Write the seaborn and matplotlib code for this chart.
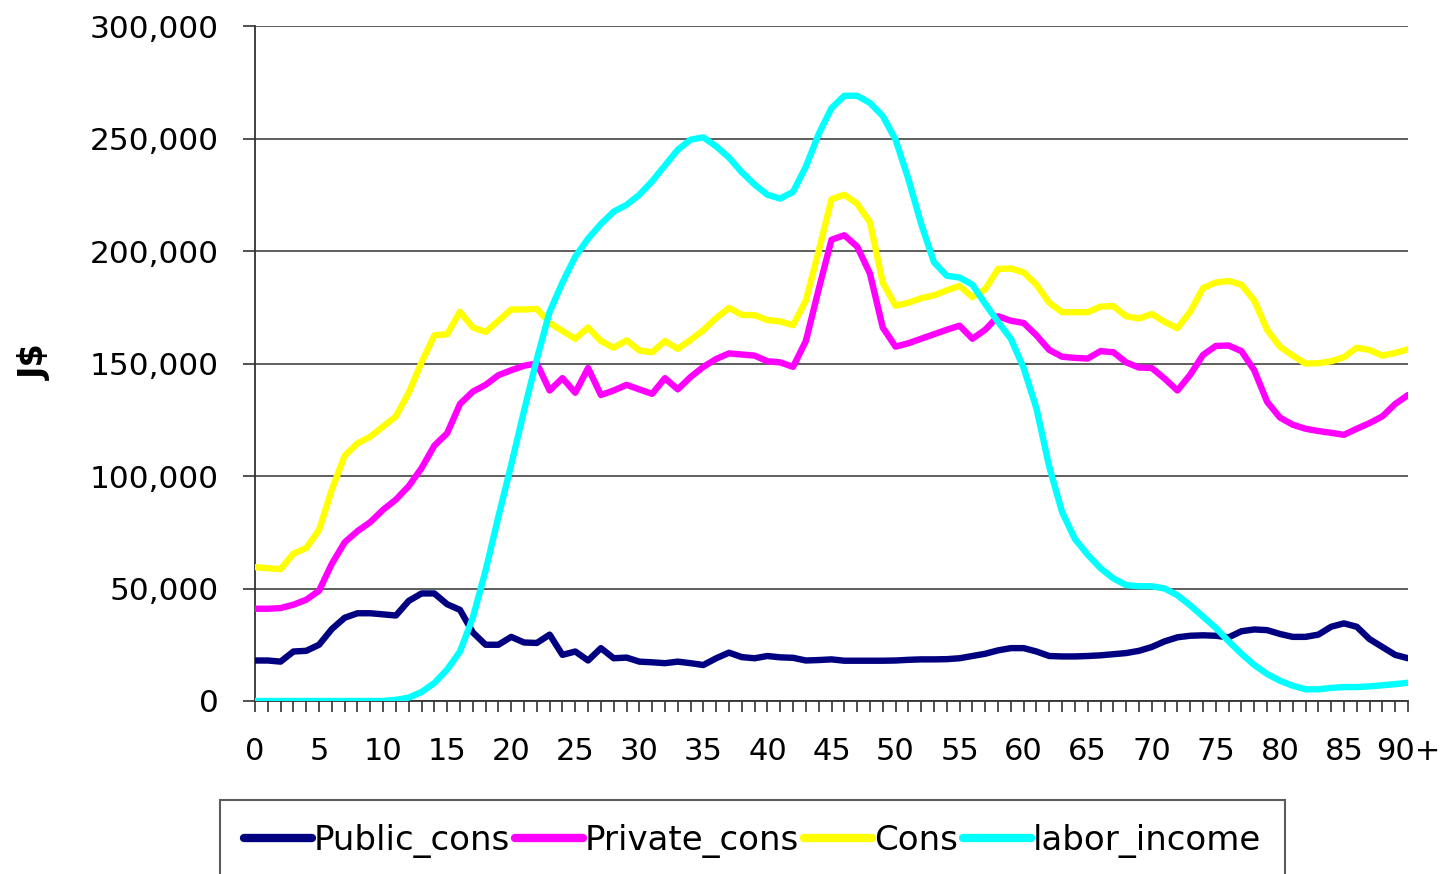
import numpy as np
import pandas as pd
import matplotlib
matplotlib.use("Agg")
import matplotlib.pyplot as plt
import seaborn as sns
from matplotlib.lines import Line2D

ages = list(range(0, 91))
tick_ages = list(range(0, 91, 5))
tick_labels = [str(a) for a in range(0, 90, 5)] + ["90+"]
series_names = ["Public_cons", "Private_cons", "Cons", "labor_income"]
series_colors = ["#000080", "#FF00FF", "#FFFF00", "#00FFFF"]

public_cons = [18000, 18000, 17500, 22000, 22300, 25000, 32000, 37000, 39000, 39000,
               38500, 38000, 44500, 47800, 47800, 43000, 40500, 30500, 25000, 25000,
               28500, 26000, 25800, 29500, 20500, 22000, 18000, 23500, 19000, 19300,
               17500, 17200, 16800, 17500, 16800, 16000, 19000, 21500, 19500, 19000,
               20000, 19400, 19200, 18000, 18200, 18500, 17900, 17900, 17900, 17900,
               18000, 18300, 18500, 18500, 18600, 19000, 20000, 21000, 22500, 23500,
               23500, 22000, 20000, 19800, 19800, 20000, 20300, 20800, 21300, 22300,
               24000, 26500, 28300, 29000, 29200, 29000, 28300, 31000, 31800, 31500,
               29800, 28500, 28500, 29500, 33000, 34500, 33000, 27500, 24000, 20500,
               19000]

private_cons = [41000, 41000, 41300, 42800, 45000, 49000, 61000, 70500, 75500, 79500,
                85000, 89500, 95500, 103500, 113500, 119000, 132000, 137500, 140500, 144800,
                147000, 149000, 150000, 138000, 143500, 137000, 148000, 136000, 138000, 140500,
                138500, 136500, 143500, 138500, 144000, 148500, 152000, 154500, 154000, 153500,
                151000, 150500, 148500, 160000, 183000, 205000, 207000, 202000, 190000, 166000,
                157500, 159000, 161000, 163000, 165000, 166800, 161000, 165000, 171000, 169000,
                168000, 162500, 156000, 153000, 152500, 152200, 155500, 155000, 150500, 148200,
                148000, 143300, 138000, 145000, 153800, 157800, 158000, 155500, 147000, 133000,
                126000, 122800, 121000, 120000, 119200, 118300, 121000, 123500, 126500, 132000,
                136000]

cons = [59500, 59000, 58600, 65500, 68000, 76000, 94000, 109000, 114500, 117500,
        122000, 126500, 137000, 150500, 162500, 163000, 173000, 166000, 164000, 169000,
        174000, 174000, 174300, 168000, 164500, 161000, 166000, 160000, 157000, 160300,
        155800, 155000, 160000, 156500, 160500, 164800, 170200, 174700, 171600, 171500,
        169300, 168700, 167000, 178000, 200000, 223000, 225000, 221000, 212800, 186000,
        175700, 177000, 179000, 180300, 182500, 184500, 179500, 183000, 192000, 192200,
        190500, 185000, 177000, 172800, 172800, 172800, 175300, 175500, 171000, 170000,
        172000, 168500, 165700, 173000, 183500, 186000, 186700, 185000, 178000, 165000,
        157500, 153500, 150000, 150100, 151000, 152800, 157000, 156000, 153500, 154700,
        156300]

labor_income = [0, 0, 0, 0, 0, 0, 0, 0, 0, 0,
                0, 500, 1500, 4000, 8000, 14000, 22000, 37000, 58000, 82000,
                105000, 129000, 152000, 173000, 186000, 197500, 205500, 212000, 217500, 220500,
                225000, 231000, 238000, 245000, 249500, 250500, 246500, 241500, 235000, 229500,
                225000, 223300, 226300, 237500, 252000, 263500, 269000, 269000, 265800, 260000,
                249500, 232000, 212000, 195000, 189000, 188200, 185000, 176500, 168500, 161000,
                148000, 130000, 104000, 84000, 72000, 65000, 59000, 54500, 51500, 51000,
                51000, 50000, 47000, 42500, 37500, 32500, 26500, 21000, 16000, 12000,
                9000, 6800, 5200, 5200, 5800, 6200, 6200, 6500, 7000, 7500,
                8100]

sns.set_theme(style="white")
plt.rcParams["font.family"] = ["DejaVu Sans"]
plt.rcParams["text.color"] = "black"
plt.rcParams["xtick.color"] = "black"
plt.rcParams["ytick.color"] = "black"

frames = []
for name, vals in zip(series_names, [public_cons, private_cons, cons, labor_income]):
    frames.append(pd.DataFrame({"age": ages, "value": vals, "series": name}))
df = pd.concat(frames, ignore_index=True)

fig = plt.figure(figsize=(14.44, 8.74), dpi=100)
ax = fig.add_axes([255 / 1444, 1 - 701 / 874, (1408 - 255) / 1444, (701 - 26) / 874])

sns.lineplot(data=df, x="age", y="value", hue="series", hue_order=series_names,
             palette=series_colors, linewidth=4.6, ax=ax, legend=False,
             solid_joinstyle="round", solid_capstyle="round", zorder=3)

ax.set_xlim(0, 90)
ax.set_ylim(0, 300000)
ax.set_yticks(range(0, 300001, 50000))
ax.set_yticklabels([f"{v:,}" for v in range(0, 300001, 50000)])
ax.set_xticks(tick_ages)
ax.set_xticklabels(tick_labels)
ax.set_xticks(ages, minor=True)
ax.yaxis.grid(True, color="#333333", linewidth=1.1, zorder=1)
ax.xaxis.grid(False)
ax.set_xlabel("")
ax.set_ylabel("")

for s in ["top", "right"]:
    ax.spines[s].set_visible(False)
for s in ["left", "bottom"]:
    ax.spines[s].set_color("#333333")
    ax.spines[s].set_linewidth(1.3)

ax.tick_params(axis="y", which="major", direction="out", length=9, width=1.2,
               color="#333333", labelcolor="black", labelsize=22.5, pad=17, left=True)
ax.tick_params(axis="x", which="major", direction="out", length=8, width=1.2,
               color="#333333", labelcolor="black", labelsize=22, pad=18, bottom=True)
ax.tick_params(axis="x", which="minor", direction="out", length=8, width=1.2,
               color="#333333", bottom=True)

fig.text(35 / 1444, 1 - 362 / 874, "J$", rotation=90, fontsize=24,
         fontweight="bold", ha="center", va="center", color="black")

handles = [Line2D([0], [0], color=c, linewidth=6, solid_capstyle="round") for c in series_colors]
leg = fig.legend(handles, series_names, loc="upper left",
                 bbox_to_anchor=(220 / 1444, 1 - 800 / 874), ncol=4, fontsize=24.5,
                 frameon=True, fancybox=False, handlelength=2.0, handletextpad=0.05,
                 columnspacing=0.15, borderpad=0.7, borderaxespad=0)
leg.get_frame().set_edgecolor("#333333")
leg.get_frame().set_linewidth(1.5)
for t in leg.get_texts():
    t.set_color("black")

fig.savefig("out.png", dpi=100)
